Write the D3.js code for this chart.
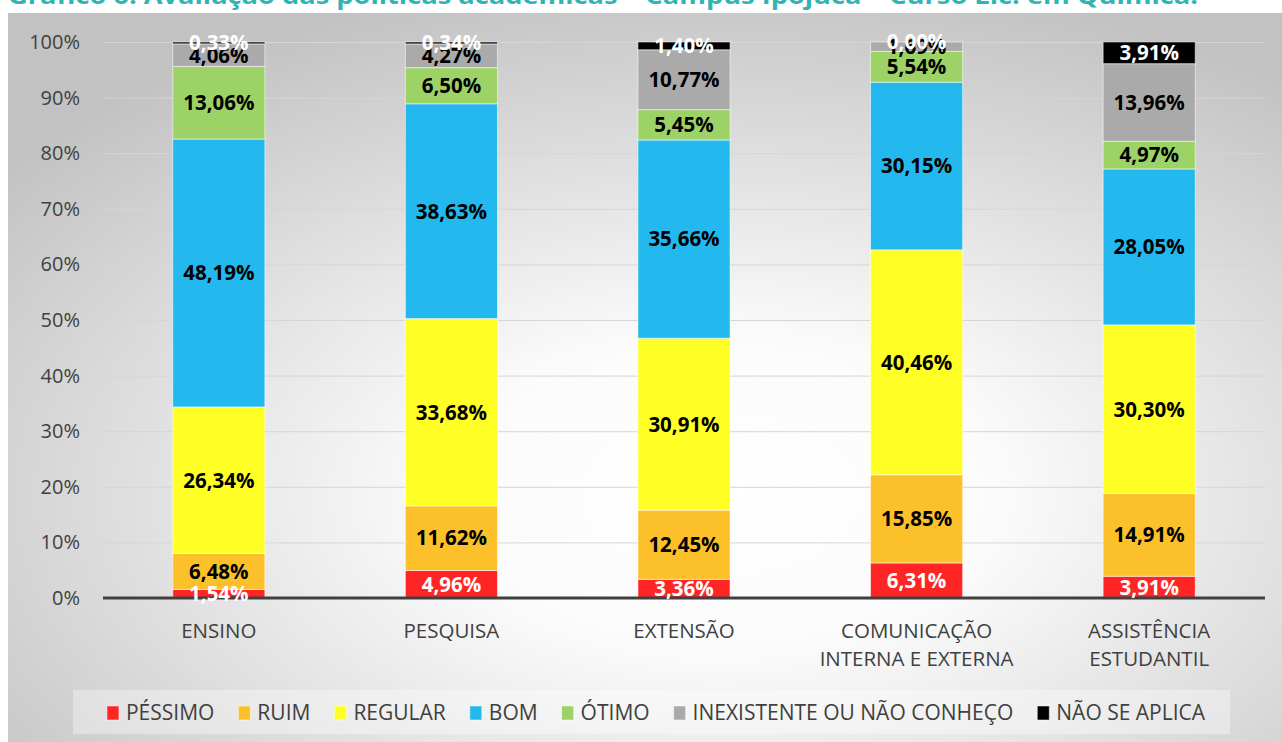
<!DOCTYPE html>
<html>
<head>
<meta charset="utf-8">
<script src="https://cdn.jsdelivr.net/npm/d3@7"></script>
<style>
  html, body { margin: 0; padding: 0; background: #fff; }
  svg { display: block; font-family: "Open Sans", "DejaVu Sans", sans-serif; }
</style>
</head>
<body>
<div id="chart"></div>
<script>
// categorias (eixo x)
const categories = ["ENSINO", "PESQUISA", "EXTENSÃO", "COMUNICAÇÃO\nINTERNA E EXTERNA", "ASSISTÊNCIA\nESTUDANTIL"];

// séries (valores em %)
const seriesNames = ["PÉSSIMO", "RUIM", "REGULAR", "BOM", "ÓTIMO", "INEXISTENTE OU NÃO CONHEÇO", "NÃO SE APLICA"];
const pessimo     = [1.54, 4.96, 3.36, 6.31, 3.91];
const ruim        = [6.48, 11.62, 12.45, 15.85, 14.91];
const regular     = [26.34, 33.68, 30.91, 40.46, 30.30];
const bom         = [48.19, 38.63, 35.66, 30.15, 28.05];
const otimo       = [13.06, 6.50, 5.45, 5.54, 4.97];
const inexistente = [4.06, 4.27, 10.77, 1.69, 13.96];
const naoSeAplica = [0.33, 0.34, 1.40, 0.00, 3.91];

const yTicks = [0, 10, 20, 30, 40, 50, 60, 70, 80, 90, 100];

const colors = ["#ff2525", "#fbc02a", "#ffff26", "#23b8ee", "#9cd266", "#aaaaaa", "#000000"];
const labelColors = ["#ffffff", "#000", "#000", "#000", "#000", "#000", "#ffffff"];

const W = 1282, H = 742;
const plot = { left: 103, right: 1265, top: 42, bottom: 598 };

const svg = d3.select("#chart").append("svg")
    .attr("width", W).attr("height", H);

// fundo com gradiente radial
const defs = svg.append("defs");
const grad = defs.append("radialGradient")
    .attr("id", "bg").attr("cx", "56%").attr("cy", "66%").attr("r", "72%");
grad.append("stop").attr("offset", "0%").attr("stop-color", "#ffffff");
grad.append("stop").attr("offset", "30%").attr("stop-color", "#fbfbfb");
grad.append("stop").attr("offset", "100%").attr("stop-color", "#c2c2c2");

svg.append("rect").attr("x", 8).attr("y", 13).attr("width", W - 8).attr("height", H - 13)
    .attr("fill", "url(#bg)");

// título (cortado no topo)
svg.append("text")
    .attr("x", 8).attr("y", 4)
    .attr("font-size", 24).attr("font-weight", "bold")
    .attr("fill", "#2fb5b3")
    .attr("textLength", 1190).attr("lengthAdjust", "spacingAndGlyphs")
    .text("Gráfico 6: Avaliação das políticas acadêmicas – Campus Ipojuca – Curso Lic. em Química.");

// escalas
const x = d3.scaleBand().domain(categories)
    .range([plot.left, plot.right]).paddingInner(0.604).paddingOuter(0.3);
const y = d3.scaleLinear().domain([0, 100]).range([plot.bottom, plot.top]);

// grade + eixo y
const yAxis = svg.append("g")
    .attr("transform", `translate(${plot.left},0)`)
    .call(d3.axisLeft(y).tickValues(yTicks).tickFormat(d => d + "%")
        .tickSize(-(plot.right - plot.left)).tickPadding(23));
yAxis.select(".domain").remove();
yAxis.selectAll(".tick line").attr("stroke", "#d6d6d6").attr("stroke-width", 1);
yAxis.selectAll(".tick text").attr("font-size", 20).attr("fill", "#404040")
    .attr("font-family", "'Open Sans', sans-serif");

// dados empilhados
const seriesValues = [pessimo, ruim, regular, bom, otimo, inexistente, naoSeAplica];
const rows = categories.map((c, i) => {
    const r = { cat: c };
    seriesNames.forEach((s, k) => { r[s] = seriesValues[k][i]; });
    return r;
});
const stacked = d3.stack().keys(seriesNames)(rows);

const layers = svg.append("g").selectAll("g")
    .data(stacked).join("g")
    .attr("fill", (d, i) => colors[i]);

layers.selectAll("rect")
    .data(d => d).join("rect")
    .attr("x", d => x(d.data.cat))
    .attr("width", x.bandwidth())
    .attr("y", d => y(d[1]))
    .attr("height", d => y(d[0]) - y(d[1]))
    .attr("stroke", "rgba(255,255,255,0.55)")
    .attr("stroke-width", 1);

// linha de base
svg.append("line")
    .attr("x1", plot.left).attr("x2", plot.right)
    .attr("y1", y(0)).attr("y2", y(0))
    .attr("stroke", "#404040").attr("stroke-width", 3);

// rótulos de dados
const fmt = v => v.toFixed(2).replace(".", ",") + "%";
stacked.forEach((layer, i) => {
    svg.append("g").selectAll("text")
        .data(layer).join("text")
        .attr("x", d => x(d.data.cat) + x.bandwidth() / 2)
        .attr("y", d => y((d[0] + d[1]) / 2))
        .attr("dy", "0.36em")
        .attr("text-anchor", "middle")
        .attr("font-size", 20.5).attr("font-weight", "bold")
        .attr("fill", labelColors[i])
        .text(d => fmt(d[1] - d[0]));
});

// rótulos das categorias
svg.append("g").selectAll("text")
    .data(categories).join("text")
    .attr("x", d => x(d) + x.bandwidth() / 2)
    .attr("y", 638)
    .attr("text-anchor", "middle")
    .attr("font-size", 20.5).attr("fill", "#404040")
    .each(function (d) {
        const t = d3.select(this);
        d.split("\n").forEach((line, i) => {
            t.append("tspan").attr("x", x(d) + x.bandwidth() / 2)
                .attr("dy", i === 0 ? 0 : 28).text(line);
        });
    });

// legenda
svg.append("rect").attr("x", 73).attr("y", 690).attr("width", 1157).attr("height", 44)
    .attr("fill", "rgba(255,255,255,0.35)");
const legend = svg.append("g");
const items = legend.selectAll("g").data(seriesNames).join("g");
items.append("rect")
    .attr("width", 12).attr("height", 14).attr("y", -14)
    .attr("fill", (d, i) => colors[i])
    .attr("stroke", "rgba(255,255,255,0.5)").attr("stroke-width", 1);
items.append("text")
    .attr("x", 19).attr("y", 0)
    .attr("font-size", 21).attr("fill", "#404040")
    .text(d => d);
let cursor = 0;
const gap = 24;
items.each(function () {
    const w = d3.select(this).select("text").node().getComputedTextLength() + 19;
    d3.select(this).attr("transform", `translate(${cursor},720)`);
    cursor += w + gap;
});
const total = cursor - gap;
legend.attr("transform", `translate(${656 - total / 2},0)`);
</script>
</body>
</html>
